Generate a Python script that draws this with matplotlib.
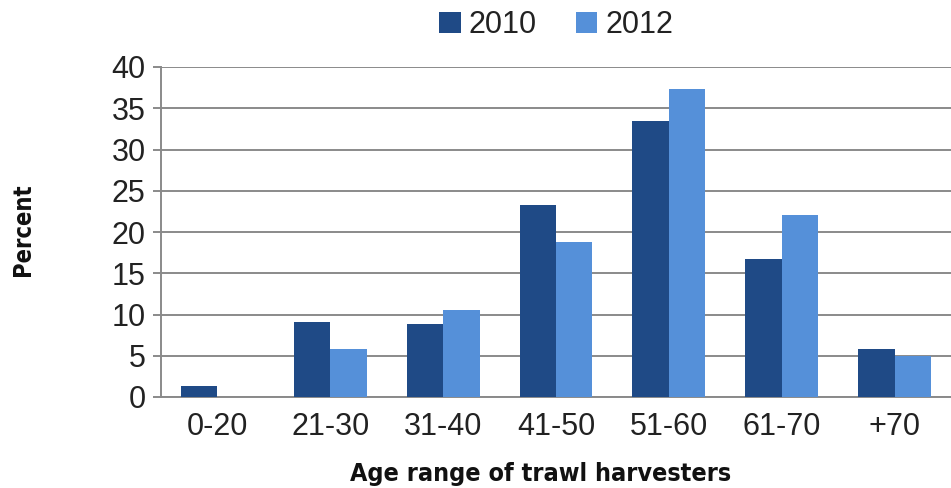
import matplotlib
matplotlib.use("Agg")
import matplotlib.pyplot as plt
import numpy as np

categories = ["0-20", "21-30", "31-40", "41-50", "51-60", "61-70", "+70"]
values_2010 = [1.3, 9.1, 8.9, 23.3, 33.5, 16.7, 5.8]
values_2012 = [0.0, 5.8, 10.6, 18.8, 37.3, 22.1, 5.0]
series_names = ["2010", "2012"]
yticks = [0, 5, 10, 15, 20, 25, 30, 35, 40]

c2010 = "#1f4a86"
c2012 = "#5590d9"

fig = plt.figure(figsize=(9.51, 4.88), dpi=100)
ax = fig.add_axes([161/951, 1-397/488, 790/951, 330/488])

x = np.arange(len(categories))
w = 0.323
ax.bar(x - w/2, values_2010, w, color=c2010, label=series_names[0], zorder=3)
ax.bar(x + w/2, values_2012, w, color=c2012, label=series_names[1], zorder=3)

ax.set_xlim(-0.5, len(categories) - 0.5)
ax.set_ylim(0, 40)
ax.set_yticks(yticks)
ax.set_xticks(x)
ax.set_xticklabels(categories)
ax.grid(axis="y", color="#8a8a8a", linewidth=1.4, zorder=0)
for s in ["top", "right"]:
    ax.spines[s].set_visible(False)
ax.spines["left"].set_color("#8a8a8a")
ax.spines["bottom"].set_color("#8a8a8a")
ax.spines["left"].set_linewidth(1.4)
ax.spines["bottom"].set_linewidth(1.4)
ax.tick_params(axis="y", length=6, width=1.4, color="#8a8a8a", pad=5)
ax.tick_params(axis="x", length=0, pad=11)
for lab in ax.get_xticklabels() + ax.get_yticklabels():
    lab.set_fontfamily("Liberation Sans")
    lab.set_fontsize(22)
    lab.set_color("#222222")

leg = fig.legend(loc="center", bbox_to_anchor=(556/951, 1-25/488), ncol=2,
                 frameon=False, prop={"family": "Liberation Sans", "size": 22},
                 handlelength=0.7, handleheight=0.7, handletextpad=0.25,
                 columnspacing=1.3)
for t in leg.get_texts():
    t.set_color("#222222")

fig.text(23/951, 1-230/488, "Percent", rotation=90, ha="center", va="center",
         fontsize=17, fontweight="bold", fontstretch="condensed",
         family="DejaVu Sans", color="#111111")
fig.text(541/951, 1-474/488, "Age range of trawl harvesters", ha="center", va="center",
         fontsize=18, fontweight="bold", fontstretch="condensed",
         family="DejaVu Sans", color="#111111")

fig.savefig("out.png", dpi=100)
